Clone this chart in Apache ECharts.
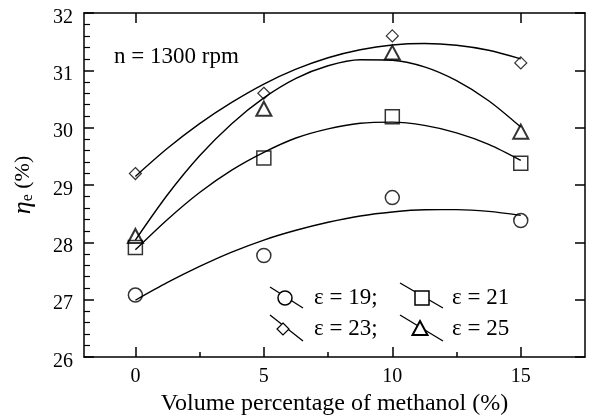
<!DOCTYPE html>
<html>
<head>
<meta charset="utf-8">
<script src="https://cdn.jsdelivr.net/npm/echarts@6/dist/echarts.min.js"></script>
<style>html,body{margin:0;padding:0;background:#fff}#c{width:592px;height:416px}</style>
</head>
<body>
<div id="c"></div>
<script>
// measured points
const xPts = [0, 5, 10, 15];
const e19 = [27.08, 27.77, 28.78, 28.38];
const e21 = [27.91, 29.47, 30.19, 29.38];
const e23 = [29.20, 30.60, 31.60, 31.13];
const e25 = [28.11, 30.33, 31.31, 29.93];
// fitted curves
const xCurve = [0, 1.25, 2.5, 3.75, 5, 6.25, 7.5, 8.75, 10, 11.25, 12.5, 13.75, 15];
const c19 = [26.99, 27.30, 27.58, 27.83, 28.04, 28.21, 28.35, 28.46, 28.53, 28.568, 28.57, 28.54, 28.47];
const c21 = [27.87, 28.40, 28.87, 29.26, 29.57, 29.82, 29.98, 30.077, 30.097, 30.04, 29.91, 29.71, 29.43];
const c23 = [29.15, 29.64, 30.07, 30.44, 30.76, 31.02, 31.22, 31.36, 31.443, 31.469, 31.438, 31.35, 31.20];
const c25 = [28.04, 28.83, 29.51, 30.07, 30.52, 30.86, 31.08, 31.185, 31.177, 31.06, 30.82, 30.47, 30.01];
// ticks
const xMajor = [0, 5, 10, 15];
const xMinor = [2.5, 7.5, 12.5];
const legendLabels = ['ε = 19;', 'ε = 21', 'ε = 23;', 'ε = 25'];
const annotation = 'n = 1300 rpm';

const FONT = 'Liberation Serif';
const pair = (xs, ys) => xs.map((x, i) => [x, ys[i]]);

const chart = echarts.init(document.getElementById('c'), null, {renderer: 'canvas'});

function curve(ys) {
  return {type: 'line', data: pair(xCurve, ys), smooth: 0.3, showSymbol: false, symbol: 'none',
    lineStyle: {color: '#000', width: 1.4}, silent: true, z: 2};
}
function marks(ys, symbol, size, bw) {
  return {type: 'scatter', data: pair(xPts, ys), symbol: symbol, symbolSize: size,
    itemStyle: {color: 'rgba(0,0,0,0)', borderColor: '#000', borderWidth: bw}, z: 3};
}
const diamondPath = 'path://M0,-1L1,0L0,1L-1,0Z';

const lineSt = {stroke: '#000', lineWidth: 1.3};
const mk = {fill: '#fff', stroke: '#000', lineWidth: 1.5};
const axLine = {show: true, onZero: false, lineStyle: {color: '#000', width: 1.5}};

chart.setOption({
  animation: false,
  grid: {left: 84, top: 13, right: 7, bottom: 59, containLabel: false, outerBoundsMode: 'none'},
  xAxis: [
    {type: 'value', min: -2, max: 17.5, position: 'bottom',
     axisLine: axLine,
     axisTick: {show: true, inside: true, length: 10, customValues: xMajor, lineStyle: {color: '#000', width: 1.5}},
     axisLabel: {customValues: xMajor, color: '#000', fontFamily: FONT, fontSize: 20, margin: 10},
     splitLine: {show: false},
     name: 'Volume percentage of methanol (%)', nameLocation: 'middle', nameGap: 24,
     nameTextStyle: {color: '#000', fontFamily: FONT, fontSize: 24}},
    {type: 'value', min: -2, max: 17.5, position: 'bottom', gridIndex: 0,
     axisLine: {show: false, onZero: false},
     axisTick: {show: true, inside: true, length: 5, customValues: xMinor, lineStyle: {color: '#000', width: 1.5}},
     axisLabel: {show: false}, splitLine: {show: false}},
    {type: 'value', min: -2, max: 17.5, position: 'top', gridIndex: 0,
     axisLine: axLine,
     axisTick: {show: true, inside: true, length: 10, customValues: xMajor, lineStyle: {color: '#000', width: 1.5}},
     axisLabel: {show: false}, splitLine: {show: false}}
  ],
  yAxis: [
    {type: 'value', min: 26, max: 32, interval: 1, position: 'left',
     axisLine: axLine,
     axisTick: {show: true, inside: true, length: 10, lineStyle: {color: '#000', width: 1.5}},
     minorTick: {show: true, splitNumber: 5, length: 6, lineStyle: {color: '#000', width: 1.2}},
     axisLabel: {color: '#000', fontFamily: FONT, fontSize: 20, margin: 11,
       formatter: '{v|{value}}',
       rich: {v: {fontFamily: FONT, fontSize: 20, color: '#000', padding: [9, 0, 0, 0]}}},
     splitLine: {show: false},
     name: '{i|η}{s|e}{n| (%)}', nameLocation: 'middle', nameGap: 48, nameRotate: 90,
     nameTextStyle: {color: '#000', fontFamily: FONT, fontSize: 22,
       rich: {i: {fontFamily: FONT, fontStyle: 'italic', fontSize: 26, color: '#000'},
              s: {fontFamily: FONT, fontSize: 16, color: '#000', verticalAlign: 'bottom', padding: [8, 0, 0, 0]},
              n: {fontFamily: FONT, fontSize: 22, color: '#000'}}}},
    {type: 'value', min: 26, max: 32, interval: 1, position: 'right',
     axisLine: axLine,
     axisTick: {show: true, inside: true, length: 10, lineStyle: {color: '#000', width: 1.5}},
     axisLabel: {show: false}, splitLine: {show: false}}
  ],
  series: [
    curve(c19), curve(c21), curve(c23), curve(c25),
    marks(e19, 'circle', 14, 1.5),
    marks(e21, 'rect', 14, 1.5),
    marks(e23, diamondPath, 12, 1.2),
    marks(e25, 'triangle', [15, 14], 2)
  ],
  graphic: [
    {type: 'text', left: 114, top: 45, style: {text: annotation, fontFamily: FONT, fontSize: 23, fill: '#000'}},
    // legend row 1
    {type: 'line', shape: {x1: 270, y1: 287, x2: 303, y2: 308}, style: lineSt},
    {type: 'circle', shape: {cx: 285, cy: 298, r: 7}, style: mk},
    {type: 'text', left: 314, top: 286, style: {text: legendLabels[0], fontFamily: FONT, fontSize: 23, fill: '#000'}},
    {type: 'line', shape: {x1: 400, y1: 283, x2: 443, y2: 308}, style: lineSt},
    {type: 'rect', shape: {x: 415, y: 291, width: 14, height: 14}, style: mk},
    {type: 'text', left: 452, top: 286, style: {text: legendLabels[1], fontFamily: FONT, fontSize: 23, fill: '#000'}},
    // legend row 2
    {type: 'line', shape: {x1: 270, y1: 315, x2: 303, y2: 341}, style: lineSt},
    {type: 'polygon', shape: {points: [[283, 323], [289, 329], [283, 335], [277, 329]]}, style: {fill: '#fff', stroke: '#000', lineWidth: 1.2}},
    {type: 'text', left: 314, top: 317, style: {text: legendLabels[2], fontFamily: FONT, fontSize: 23, fill: '#000'}},
    {type: 'line', shape: {x1: 400, y1: 315, x2: 443, y2: 341}, style: lineSt},
    {type: 'polygon', shape: {points: [[420, 321], [427.5, 335], [412.5, 335]]}, style: {fill: '#fff', stroke: '#000', lineWidth: 2}},
    {type: 'text', left: 452, top: 317, style: {text: legendLabels[3], fontFamily: FONT, fontSize: 23, fill: '#000'}}
  ]
});
</script>
</body>
</html>
